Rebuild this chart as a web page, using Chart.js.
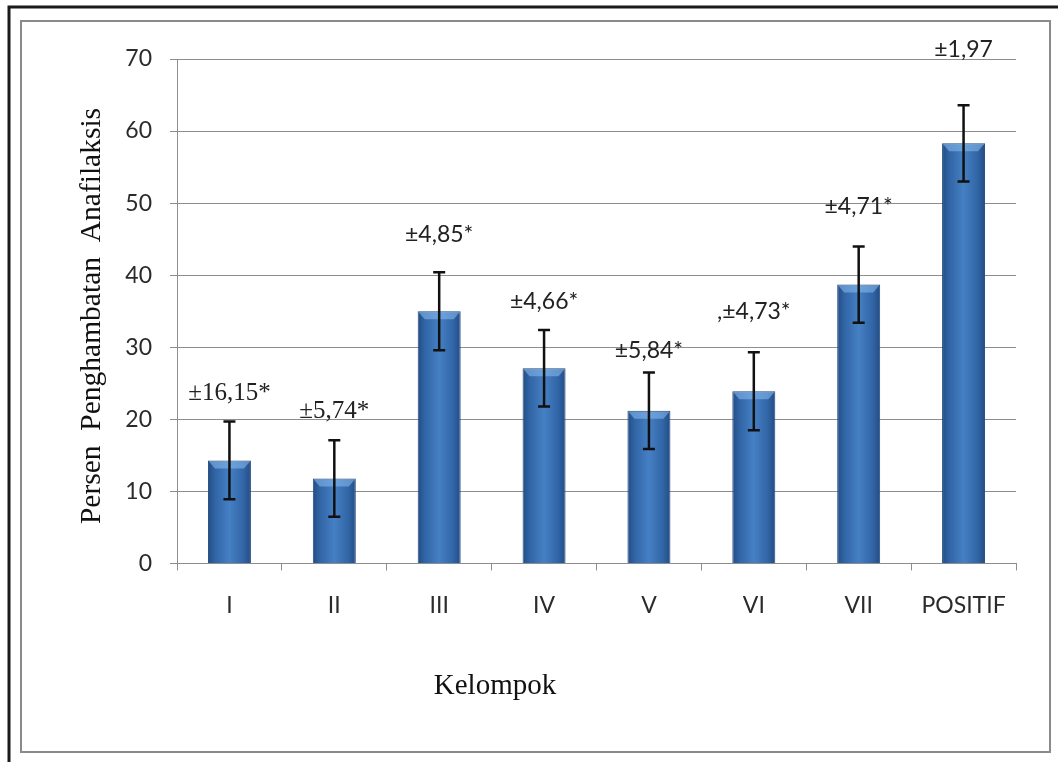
<!DOCTYPE html>
<html>
<head>
<meta charset="utf-8">
<script src="https://cdn.jsdelivr.net/npm/chart.js@4/dist/chart.umd.min.js"></script>
<style>
  html, body { margin: 0; padding: 0; background: #fff; }
  #wrap { width: 1058px; height: 762px; position: relative; }
</style>
</head>
<body>
<div id="wrap"><canvas id="chart"></canvas></div>
<script>
// data
const groups = ["I", "II", "III", "IV", "V", "VI", "VII", "POSITIF"];
const inhibition = [14.3, 11.8, 35.0, 27.1, 21.2, 23.9, 38.7, 58.3];
const errSize = [5.4, 5.3, 5.4, 5.3, 5.3, 5.4, 5.3, 5.3];
const sdLabels = ["±16,15*", "±5,74*", "±4,85*", "±4,66*", "±5,84*", ",±4,73*", "±4,71*", "±1,97"];
const labelLevel = [23.6, 21.1, 45.7, 36.4, 29.5, 35.0, 49.5, 71.3];
const yTicks = [0, 10, 20, 30, 40, 50, 60, 70];
const xTitle = "Kelompok";
const yTitle = "Persen  Penghambatan  Anafilaksis";

const SANS = "Lato, 'Open Sans', sans-serif";
const SERIF = "'Liberation Serif', 'DejaVu Serif', serif";
const GRID = "#8e8e8e";

// frame around the figure + axis titles (placed off-centre like the original)
const framePlugin = {
  id: "frame",
  beforeDraw(chart) {
    const c = chart.ctx;
    c.save();
    c.fillStyle = "#fff";
    c.fillRect(0, 0, chart.width, chart.height);
    c.strokeStyle = "#1a1a1a";
    c.lineWidth = 3;
    c.beginPath();
    c.moveTo(9, chart.height);
    c.lineTo(9, 7);
    c.lineTo(chart.width, 7);
    c.stroke();
    c.strokeStyle = "#8a8a8a";
    c.lineWidth = 2;
    c.strokeRect(21, 21, 1029, 731);
    c.restore();
  },
  afterDraw(chart) {
    const c = chart.ctx;
    c.save();
    c.fillStyle = "#111";
    c.textAlign = "center";
    c.textBaseline = "middle";
    c.font = "29px " + SERIF;
    c.fillText(xTitle, 495, 686);
    c.translate(92, 316);
    c.rotate(-Math.PI / 2);
    c.font = "29.5px " + SERIF;
    c.fillText(yTitle, 0, 0);
    c.restore();
  }
};

// top bevel on each bar, error bars and the sd labels
const extrasPlugin = {
  id: "extras",
  afterDatasetsDraw(chart) {
    const c = chart.ctx;
    const y = chart.scales.y;
    const meta = chart.getDatasetMeta(0);
    c.save();
    meta.data.forEach((bar, i) => {
      const half = bar.width / 2;
      // bevel
      c.fillStyle = "rgba(140,190,240,0.55)";
      c.beginPath();
      c.moveTo(bar.x - half + 1, bar.y + 1);
      c.lineTo(bar.x + half - 1, bar.y + 1);
      c.lineTo(bar.x + half - 7, bar.y + 8);
      c.lineTo(bar.x - half + 7, bar.y + 8);
      c.closePath();
      c.fill();

      // error bar
      const top = y.getPixelForValue(inhibition[i] + errSize[i]);
      const bot = y.getPixelForValue(inhibition[i] - errSize[i]);
      c.strokeStyle = "#111";
      c.lineWidth = 2.5;
      c.beginPath();
      c.moveTo(bar.x, top); c.lineTo(bar.x, bot);
      c.moveTo(bar.x - 6, top); c.lineTo(bar.x + 6, top);
      c.moveTo(bar.x - 6, bot); c.lineTo(bar.x + 6, bot);
      c.stroke();

      // label
      c.fillStyle = "#222";
      c.textAlign = "center";
      c.textBaseline = "middle";
      c.font = i < 2 ? "25px " + SERIF : "23px " + SANS;
      c.fillText(sdLabels[i], bar.x, y.getPixelForValue(labelLevel[i]));
    });
    c.restore();
  }
};

function barFill(ctx) {
  const chart = ctx.chart;
  if (!chart.chartArea) return "#3a70b5";
  const x = chart.scales.x.getPixelForValue(ctx.dataIndex);
  const g = chart.ctx.createLinearGradient(x - 22, 0, x + 22, 0);
  g.addColorStop(0, "#224b82");
  g.addColorStop(0.18, "#3165a6");
  g.addColorStop(0.5, "#4580c4");
  g.addColorStop(0.82, "#3165a6");
  g.addColorStop(1, "#224b82");
  return g;
}

new Chart(document.getElementById("chart"), {
  type: "bar",
  data: {
    labels: groups,
    datasets: [{
      data: inhibition,
      backgroundColor: barFill,
      borderColor: "#21497c",
      borderWidth: 1,
      barPercentage: 0.41,
      categoryPercentage: 1.0
    }]
  },
  options: {
    responsive: true,
    maintainAspectRatio: false,
    animation: false,
    devicePixelRatio: 1,
    layout: { padding: { left: 0, right: 42, top: 59, bottom: 0 } },
    plugins: { legend: { display: false }, tooltip: { enabled: false } },
    scales: {
      x: {
        offset: true,
        grid: { offset: true, drawOnChartArea: false, color: GRID, tickLength: 7 },
        border: { color: GRID, width: 1 },
        ticks: { color: "#2b2b2b", font: { family: SANS, size: 23 }, padding: 21, maxRotation: 0 },
        afterFit(s) { s.height = 198.5; }
      },
      y: {
        min: 0, max: 70,
        afterBuildTicks(s) { s.ticks = yTicks.map(v => ({ value: v })); },
        grid: { color: GRID, tickLength: 7 },
        border: { color: GRID, width: 1 },
        ticks: { color: "#2b2b2b", font: { family: SANS, size: 23 }, padding: 18 },
        afterFit(s) { s.width = 177; }
      }
    }
  },
  plugins: [framePlugin, extrasPlugin]
});
</script>
</body>
</html>
